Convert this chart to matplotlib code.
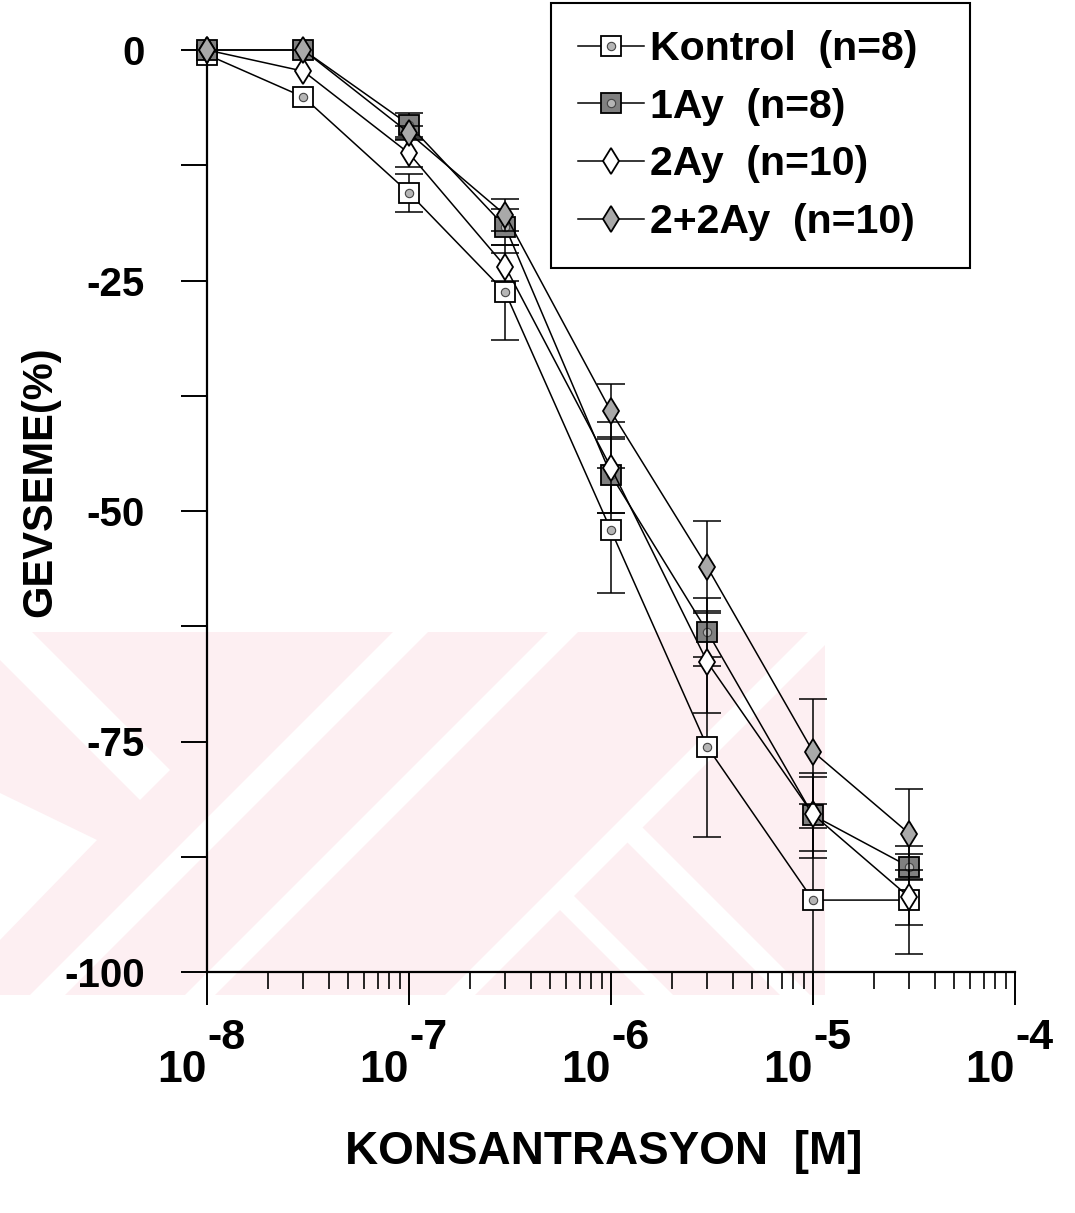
import numpy as np
import matplotlib
matplotlib.use('Agg')
import matplotlib.pyplot as plt
from matplotlib.patches import Rectangle, Polygon
from matplotlib.ticker import FixedLocator, NullFormatter
import matplotlib.transforms as mtransforms

plt.rcParams['font.family'] = ['Liberation Sans', 'DejaVu Sans']
plt.rcParams['axes.unicode_minus'] = False

# concentration (M) and relaxation (%) values
conc = [1e-8, 3e-8, 1e-7, 3e-7, 1e-6, 3e-6, 1e-5, 3e-5]

kontrol = [-0.5, -5.1, -15.5, -26.3, -52.1, -75.6, -92.2, -92.2]
kontrol_err = [0, 0, 2.1, 5.1, 6.8, 9.8, 7.8, 5.9]

ay1 = [0, 0, -8.1, -19.2, -46.1, -63.1, -83.0, -88.6]
ay1_err = [0, 0, 1.3, 2.0, 4.1, 3.7, 4.6, 1.4]

ay2 = [0, -2.3, -11.2, -23.5, -45.3, -66.4, -82.9, -91.9]
ay2_err = [0, 0, 1.5, 1.5, 4.9, 5.5, 4.0, 3.0]

ay22 = [0, 0, -9.0, -17.9, -39.2, -56.1, -76.1, -85.0]
ay22_err = [0, 0, 0.8, 1.7, 3.0, 5.0, 5.7, 4.9]

labels = ['Kontrol  (n=8)', '1Ay  (n=8)', '2Ay  (n=10)', '2+2Ay  (n=10)']

W, H = 1075, 1213
fig = plt.figure(figsize=(W / 100, H / 100), dpi=100)

# faint watermark in the background (pixel coords)
bg = fig.add_axes([0, 0, 1, 1], zorder=0)
bg.set_xlim(0, W)
bg.set_ylim(H, 0)
bg.axis('off')
pink = Rectangle((0, 632), 825, 363, facecolor='#fdeff2', edgecolor='none')
bg.add_patch(pink)
top, bot = 632, 995


def slash_band(c1, c2):
    return [(c1 - top, top), (c2 - top, top), (c2 - bot, bot), (c1 - bot, bot)]


def back_band(d1, d2, s):
    return [((s + d1) / 2, (s - d1) / 2), ((s + d2) / 2, (s - d2) / 2),
            (d2 + bot, bot), (d1 + bot, bot)]


shapes = [slash_band(1025, 1060), slash_band(1180, 1210), slash_band(1440, 1470),
          back_band(-215, -185, 1455), back_band(-350, -322, 1455),
          [(-660 + top, top), (-600 + top, top), (170, 770), (140, 800)],
          [(0, 793), (97, 840), (0, 940)]]
for pts in shapes:
    p = Polygon(pts, closed=True, facecolor='white', edgecolor='none')
    bg.add_patch(p)
    p.set_clip_path(pink)

ax = fig.add_axes([207 / W, 1 - 972 / H, (1015 - 207) / W, (972 - 50) / H], zorder=1)
ax.patch.set_alpha(0)

series = [
    (kontrol, kontrol_err, dict(marker='s', ms=15, mfc='white')),
    (ay1, ay1_err, dict(marker='s', ms=15, mfc='#808080')),
    (ay2, ay2_err, dict(marker='d', ms=13, mfc='white')),
    (ay22, ay22_err, dict(marker='d', ms=13, mfc='#a9a9a9')),
]
x = np.array(conc)
handles = []
for i, (vals, err, st) in enumerate(series):
    y = np.array(vals)
    e = np.array(err)
    m = e > 0
    ax.errorbar(x[m], y[m], yerr=e[m], fmt='none', ecolor='black', elinewidth=1.1,
                capsize=10, capthick=1.1, zorder=2 + i, clip_on=False)
    ln, = ax.plot(x, y, color='black', lw=1.1, mec='black', mew=1.3,
                  zorder=2.5 + i, clip_on=False, **st)
    h = ln
    if st['marker'] == 's':
        dot, = ax.plot(x, y, ls='none', marker='o', ms=6, mfc='#b5b5b5', mec='#444444',
                       mew=0.8, zorder=2.6 + i, clip_on=False)
        h = (ln, dot)
    handles.append(h)

ax.set_xscale('log')
ax.set_xlim(1e-8, 1e-4)
ax.set_ylim(-100, 0)
for s in ['top', 'right']:
    ax.spines[s].set_visible(False)
for s in ['left', 'bottom']:
    ax.spines[s].set_linewidth(1.6)

ax.set_yticks([0, -25, -50, -75, -100])
ax.yaxis.set_minor_locator(FixedLocator([-12.5, -37.5, -62.5, -87.5]))
ax.tick_params(axis='y', which='both', direction='out', length=19, width=1.4, pad=26,
               labelsize=29)
for t in ax.get_yticklabels():
    t.set_fontweight('bold')

decades = [1e-8, 1e-7, 1e-6, 1e-5, 1e-4]
exps = ['-8', '-7', '-6', '-5', '-4']
ax.xaxis.set_major_locator(FixedLocator(decades))
ax.xaxis.set_minor_locator(FixedLocator([d * k for d in decades[:-1] for k in range(2, 10)]))
ax.xaxis.set_major_formatter(NullFormatter())
ax.xaxis.set_minor_formatter(NullFormatter())
ax.tick_params(axis='x', which='major', direction='out', length=24, width=1.4)
ax.tick_params(axis='x', which='minor', direction='out', length=12, width=1.2)

tr = mtransforms.blended_transform_factory(ax.transData, ax.transAxes)
for d, e in zip(decades, exps):
    ax.text(d, -0.119, '10', transform=tr, ha='right', va='baseline',
            fontsize=32, fontweight='bold')
    ax.text(d, -0.084, e, transform=tr, ha='left', va='baseline',
            fontsize=31, fontweight='bold')

fig.text(604 / W, 1 - 1152 / H, 'KONSANTRASYON  [M]', ha='center', va='center',
         fontsize=33, fontweight='bold')
fig.text(40 / W, 1 - 482 / H, 'GEVSEME(%)', ha='center', va='center', rotation=90,
         fontsize=30, fontweight='bold')

leg = ax.legend(handles, labels, loc='upper left',
                bbox_to_anchor=(551 / W, 1 - 266 / H, 419 / W, 263 / H),
                bbox_transform=fig.transFigure, mode='expand',
                prop=dict(size=29.5, weight='bold'),
                frameon=True, fancybox=False, framealpha=1, edgecolor='black',
                handlelength=1.6, handletextpad=0.15, labelspacing=0.48, borderpad=0.66,
                borderaxespad=0)
leg.get_frame().set_linewidth(1.5)
leg.set_zorder(10)

plt.savefig('out.png', dpi=100)
